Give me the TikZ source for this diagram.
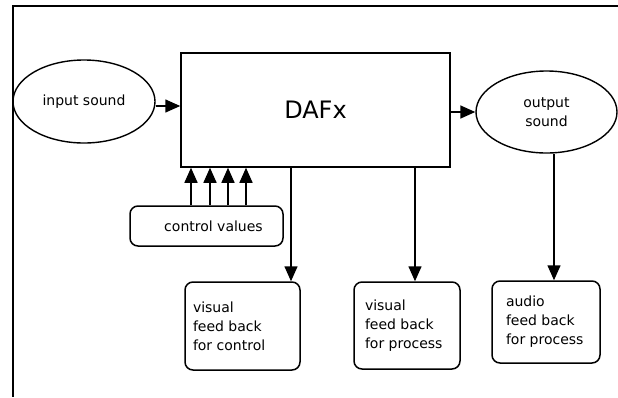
\documentclass[tikz,border=0pt]{standalone}
\usepackage{fontspec}
\setmainfont{DejaVu Sans}
\usepackage{tikz}
\usetikzlibrary{positioning,arrows.meta,shapes.geometric}

\begin{document}
\begin{tikzpicture}[
  x=1pt, y=-1pt,
  font=\fontsize{14}{19}\selectfont,
  arr/.style={line width=1.5pt, -{Triangle[length=15pt,width=13pt]}},
  snd/.style={draw, ellipse, line width=1.4pt, inner sep=0pt, align=center},
  fbbox/.style={draw, rectangle, rounded corners=8pt, line width=1.5pt, align=flush left}
]
\useasboundingbox (0,0) rectangle (618,397);

% outer frame (only top and left edges are in view)
\draw[line width=2pt] (618,6) -- (12.5,6) -- (12.5,397);

% main block
\node[draw, rectangle, line width=1.5pt, minimum width=269pt, minimum height=114pt,
  font=\fontsize{24}{28}\selectfont] (dafx) at (315.5,110) {DAFx};

% sound in and out
\node[snd, minimum width=142pt, minimum height=83pt] (insnd) at (84,101.5) {input sound};
\node[snd, minimum width=141pt, minimum height=82pt] (outsnd) at (546.5,112) {output\\sound};

\draw[arr] ([yshift=-4.5pt]insnd.east) -- ([yshift=-4.5pt]insnd.east -| dafx.west);
\draw[arr] (dafx.east |- outsnd.west) -- (outsnd.west);

% control values
\node[fbbox, minimum width=153pt, minimum height=40pt] (ctrl) at (206.5,226) {\hspace{14pt}control values};
\foreach \cx in {191,210,228,246}
  \draw[arr] (\cx,0 |- ctrl.north) -- (\cx,0 |- dafx.south);

% feed back boxes
\node[fbbox, inner xsep=8pt, text width=99pt, minimum height=88pt] (fbctrl) at (242.5,326)
  {visual\\feed back\\for control};
\node[fbbox, inner xsep=11pt, text width=84pt, minimum height=87pt] (fbproc) at (407,325.5)
  {visual\\feed back\\for process};
\node[fbbox, inner xsep=14pt, text width=80pt, minimum height=82pt] (fbaudio) at (546,322)
  {audio\\feed back\\for process};

\draw[arr] (291,0 |- dafx.south) -- (291,0 |- fbctrl.north);
\draw[arr] (415,0 |- dafx.south) -- (415,0 |- fbproc.north);
\draw[arr] (554,0 |- outsnd.south) -- (554,0 |- fbaudio.north);

\end{tikzpicture}
\end{document}
